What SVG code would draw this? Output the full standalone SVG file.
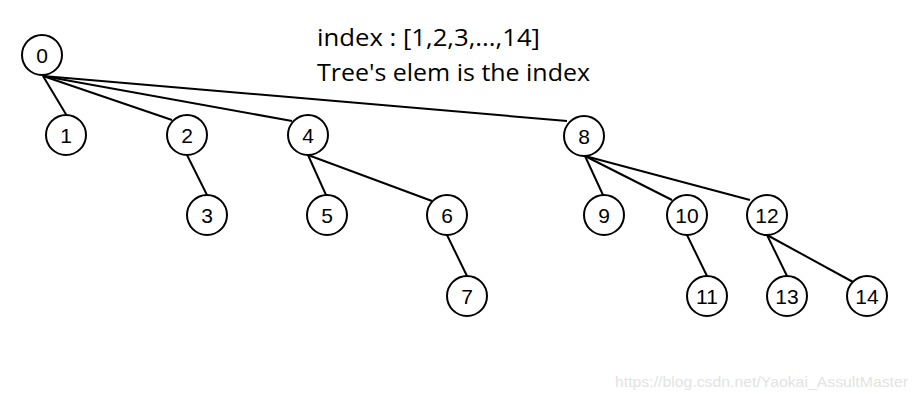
<svg xmlns="http://www.w3.org/2000/svg" width="920" height="401" viewBox="0 0 920 401">
<style>
  .node circle { fill: #ffffff; stroke: #000000; stroke-width: 2; }
  .node text { font-family: "Liberation Sans", Arial, sans-serif; font-size: 21px; fill: #000000; text-anchor: middle; dominant-baseline: central; }
  #edges line { stroke: #000000; stroke-width: 2; }
  .note { font-family: "Open Sans", "Noto Sans", sans-serif; font-size: 24px; fill: #000000; }
  .mark { font-family: "Liberation Sans", Arial, sans-serif; font-size: 15px; fill: #e3e3e3; }
</style>
<rect width="920" height="401" fill="#ffffff"/>
<g id="edges">
  <line x1="43" y1="76" x2="67" y2="116"/>
  <line x1="43" y1="76" x2="172" y2="120"/>
  <line x1="43" y1="76" x2="292" y2="121"/>
  <line x1="43" y1="76" x2="567" y2="121"/>
  <line x1="187" y1="155" x2="207" y2="195"/>
  <line x1="308" y1="155" x2="326" y2="195"/>
  <line x1="308" y1="155" x2="432" y2="201"/>
  <line x1="447" y1="235" x2="467" y2="276"/>
  <line x1="585" y1="156" x2="603" y2="195"/>
  <line x1="585" y1="156" x2="672" y2="200"/>
  <line x1="585" y1="156" x2="750" y2="200"/>
  <line x1="687" y1="235" x2="707" y2="276"/>
  <line x1="767" y1="235" x2="787" y2="276"/>
  <line x1="767" y1="235" x2="853" y2="282"/>
</g>
<g id="n0" class="node"><circle cx="42" cy="55" r="20"/><text x="42" y="55">0</text></g>
<g id="n1" class="node"><circle cx="66" cy="135" r="20"/><text x="66" y="135">1</text></g>
<g id="n2" class="node"><circle cx="187" cy="135" r="20"/><text x="187" y="135">2</text></g>
<g id="n3" class="node"><circle cx="207" cy="215" r="20"/><text x="207" y="215">3</text></g>
<g id="n4" class="node"><circle cx="308" cy="135" r="20"/><text x="308" y="135">4</text></g>
<g id="n5" class="node"><circle cx="327" cy="215" r="20"/><text x="327" y="215">5</text></g>
<g id="n6" class="node"><circle cx="447" cy="215" r="20"/><text x="447" y="215">6</text></g>
<g id="n7" class="node"><circle cx="467" cy="296" r="20"/><text x="467" y="296">7</text></g>
<g id="n8" class="node"><circle cx="584" cy="136" r="20"/><text x="584" y="136">8</text></g>
<g id="n9" class="node"><circle cx="604" cy="215" r="20"/><text x="604" y="215">9</text></g>
<g id="n10" class="node"><circle cx="687" cy="215" r="20"/><text x="687" y="215">10</text></g>
<g id="n11" class="node"><circle cx="707" cy="296" r="20"/><text x="707" y="296">11</text></g>
<g id="n12" class="node"><circle cx="767" cy="215" r="20"/><text x="767" y="215">12</text></g>
<g id="n13" class="node"><circle cx="787" cy="296" r="20"/><text x="787" y="296">13</text></g>
<g id="n14" class="node"><circle cx="867" cy="296" r="20"/><text x="867" y="296">14</text></g>
<text class="note" x="317" y="46" textLength="223" lengthAdjust="spacingAndGlyphs">index : [1,2,3,...,14]</text>
<text class="note" x="317" y="81" textLength="273" lengthAdjust="spacingAndGlyphs">Tree's elem is the index</text>
<text class="mark" x="615" y="387" textLength="293" lengthAdjust="spacingAndGlyphs">https://blog.csdn.net/Yaokai_AssultMaster</text>
</svg>
